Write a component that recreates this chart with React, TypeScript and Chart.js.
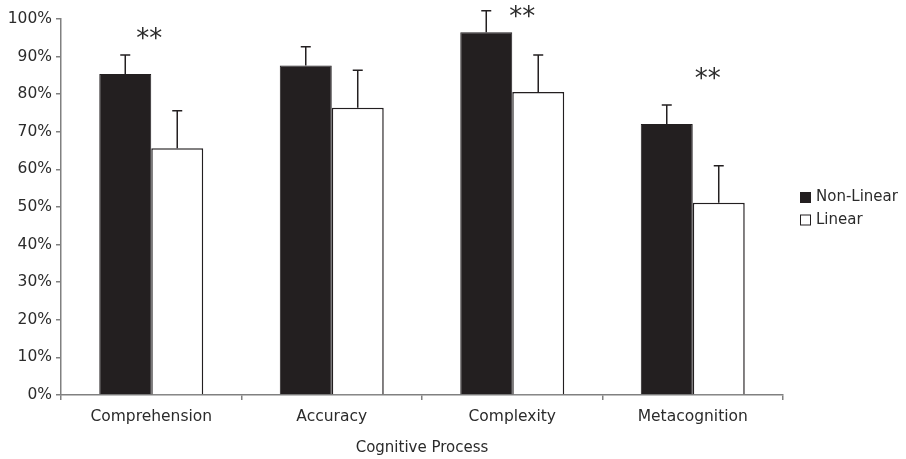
import React, { useEffect, useRef } from 'react';
import { Chart, registerables } from 'chart.js';
Chart.register(...registerables);

const categories = ['Comprehension', 'Accuracy', 'Complexity', 'Metacognition'];
const seriesNames = ['Non-Linear', 'Linear'];
const nonLinear = [85.4, 87.6, 96.5, 72.1];
const linear = [65.6, 76.4, 80.6, 51.1];
const nonLinearErr = [5.0, 5.0, 5.7, 5.0];
const linearErr = [10.0, 10.0, 9.8, 9.9];
const significance = ['**', '', '**', '**'];
const significanceLevel = [96.0, 0, 101.7, 85.4];
const xTitle = 'Cognitive Process';

const FONT = 'DejaVu Sans, Verdana, sans-serif';
const DARK = '#231f20';
const TEXT = '#2b2b2b';
const AXIS = '#808080';
const starOffsets = [-2, 0, 10, 15];

const errorBarPlugin = {
  id: 'errorBars',
  afterDatasetsDraw(chart: any) {
    const ctx = chart.ctx;
    const y = chart.scales.y;
    const errs = [nonLinearErr, linearErr];
    ctx.save();
    ctx.strokeStyle = DARK;
    ctx.lineWidth = 1.5;
    chart.data.datasets.forEach((ds: any, di: number) => {
      const meta = chart.getDatasetMeta(di);
      meta.data.forEach((el: any, i: number) => {
        const v = ds.data[i];
        const top = y.getPixelForValue(v + errs[di][i]);
        const base = y.getPixelForValue(v);
        ctx.beginPath();
        ctx.moveTo(el.x, base);
        ctx.lineTo(el.x, top);
        ctx.moveTo(el.x - 5, top);
        ctx.lineTo(el.x + 5, top);
        ctx.stroke();
      });
    });
    const x = chart.scales.x;
    ctx.fillStyle = TEXT;
    ctx.font = `26px ${FONT}`;
    ctx.textAlign = 'center';
    ctx.textBaseline = 'middle';
    significance.forEach((s, i) => {
      if (!s) return;
      const cx = x.getPixelForValue(i) + starOffsets[i];
      const cy = y.getPixelForValue(significanceLevel[i]);
      ctx.fillText(s, cx, cy + 6);
    });
    ctx.restore();
  },
};

const legendPlugin = {
  id: 'customLegend',
  afterDraw(chart: any) {
    const ctx = chart.ctx;
    ctx.save();
    ctx.font = `15px ${FONT}`;
    ctx.textAlign = 'left';
    ctx.textBaseline = 'middle';
    const lx = 800;
    const ys = [197.5, 220];
    chart.data.datasets.forEach((ds: any, i: number) => {
      const cy = ys[i];
      ctx.fillStyle = ds.backgroundColor;
      ctx.fillRect(lx, cy - 5.5, 11, 11);
      ctx.strokeStyle = DARK;
      ctx.lineWidth = 1;
      ctx.strokeRect(lx + 0.5, cy - 5, 10, 10);
      ctx.fillStyle = TEXT;
      ctx.fillText(ds.label, lx + 16, cy);
    });
    ctx.restore();
  },
};

export default function App() {
  const ref = useRef<HTMLCanvasElement>(null);
  useEffect(() => {
    if (!ref.current) return;
    const chart = new Chart(ref.current, {
      type: 'bar',
      data: {
        labels: categories,
        datasets: [
          {
            label: seriesNames[0],
            data: nonLinear,
            backgroundColor: DARK,
            borderColor: DARK,
            borderWidth: 1,
            categoryPercentage: 0.576,
            barPercentage: 1,
          },
          {
            label: seriesNames[1],
            data: linear,
            backgroundColor: '#ffffff',
            borderColor: DARK,
            borderWidth: 1.5,
            categoryPercentage: 0.576,
            barPercentage: 1,
          },
        ],
      },
      options: {
        responsive: false,
        animation: false,
        layout: { padding: { left: 0, top: 19, right: 123, bottom: 0 } },
        plugins: {
          legend: { display: false },
          tooltip: { enabled: false },
        },
        scales: {
          x: {
            offset: true,
            grid: {
              offset: true,
              drawOnChartArea: false,
              drawTicks: true,
              tickLength: 5,
              color: AXIS,
              lineWidth: 1.5,
            },
            border: { color: AXIS, width: 1.5 },
            ticks: { color: TEXT, font: { family: FONT, size: 15.5 }, padding: 8 },
            title: {
              display: true,
              text: xTitle,
              color: TEXT,
              font: { family: FONT, size: 15 },
              padding: { top: 4, bottom: 2 },
            },
            afterFit(scale: any) {
              scale.height = 64;
            },
          },
          y: {
            min: 0,
            max: 100,
            grid: {
              drawOnChartArea: false,
              drawTicks: true,
              tickLength: 5,
              color: AXIS,
              lineWidth: 1.5,
            },
            border: { color: AXIS, width: 1.5 },
            ticks: {
              stepSize: 10,
              color: TEXT,
              font: { family: FONT, size: 15.5 },
              padding: 4,
              callback: (v: any) => `${v}%`,
            },
            afterFit(scale: any) {
              scale.width = 61;
            },
          },
        },
      },
      plugins: [errorBarPlugin, legendPlugin],
    });
    return () => chart.destroy();
  }, []);
  return (
    <div style={{ position: 'fixed', left: 0, top: 0, width: 906, height: 459, background: '#fff' }}>
      <canvas ref={ref} width={906} height={459} />
    </div>
  );
}
